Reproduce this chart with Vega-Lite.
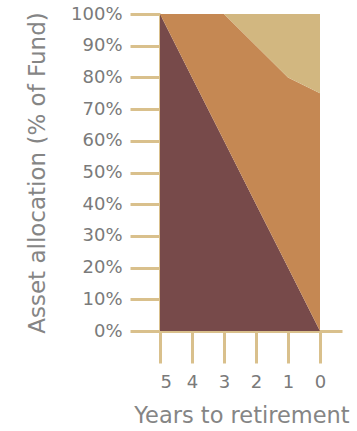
{
  "$schema": "https://vega.github.io/schema/vega-lite/v6.json",
  "width": 182,
  "height": 317,
  "autosize": {"type": "none"},
  "padding": {"left": 160, "top": 14, "right": 15, "bottom": 100},
  "background": "white",
  "config": {
    "view": {"stroke": null},
    "font": "DejaVu Sans",
    "axis": {"grid": false}
  },
  "data": {
    "values": [
      {"years": 5, "asset": "Growth", "rank": 1, "pct": 100},
      {"years": 4, "asset": "Growth", "rank": 1, "pct": 80},
      {"years": 3, "asset": "Growth", "rank": 1, "pct": 60},
      {"years": 2, "asset": "Growth", "rank": 1, "pct": 40},
      {"years": 1, "asset": "Growth", "rank": 1, "pct": 20},
      {"years": 0, "asset": "Growth", "rank": 1, "pct": 0},
      {"years": 5, "asset": "Balanced", "rank": 2, "pct": 0},
      {"years": 4, "asset": "Balanced", "rank": 2, "pct": 20},
      {"years": 3, "asset": "Balanced", "rank": 2, "pct": 40},
      {"years": 2, "asset": "Balanced", "rank": 2, "pct": 50},
      {"years": 1, "asset": "Balanced", "rank": 2, "pct": 60},
      {"years": 0, "asset": "Balanced", "rank": 2, "pct": 75},
      {"years": 5, "asset": "Defensive", "rank": 3, "pct": 0},
      {"years": 4, "asset": "Defensive", "rank": 3, "pct": 0},
      {"years": 3, "asset": "Defensive", "rank": 3, "pct": 0},
      {"years": 2, "asset": "Defensive", "rank": 3, "pct": 10},
      {"years": 1, "asset": "Defensive", "rank": 3, "pct": 20},
      {"years": 0, "asset": "Defensive", "rank": 3, "pct": 25}
    ]
  },
  "mark": {"type": "area", "opacity": 1},
  "encoding": {
    "x": {
      "field": "years",
      "type": "quantitative",
      "scale": {"domain": [5, -0.6875], "nice": false, "zero": false},
      "axis": {
        "values": [5, 4, 3, 2, 1, 0],
        "format": "d",
        "title": "Years to retirement",
        "titleX": 81.5,
        "titleAlign": "center",
        "titleFontSize": 22.5,
        "titleFontWeight": "normal",
        "titleColor": "#858585",
        "titlePadding": 13,
        "labelFontSize": 18,
        "labelFontWeight": "normal",
        "labelColor": "#7a7a7a",
        "labelPadding": 10,
        "tickSize": 32,
        "tickWidth": 3,
        "tickColor": "#d9c08c",
        "domainColor": "#d9c08c",
        "domainWidth": 3
      }
    },
    "y": {
      "field": "pct",
      "type": "quantitative",
      "stack": "zero",
      "scale": {"domain": [0, 100], "nice": false},
      "axis": {
        "values": [0, 10, 20, 30, 40, 50, 60, 70, 80, 90, 100],
        "labelExpr": "datum.value + '%'",
        "title": "Asset allocation (% of Fund)",
        "titleFontSize": 23,
        "titleFontWeight": "normal",
        "titleColor": "#858585",
        "titlePadding": 21,
        "labelFontSize": 18,
        "labelFontWeight": "normal",
        "labelColor": "#7a7a7a",
        "labelPadding": 8,
        "tickSize": 30,
        "tickWidth": 3,
        "tickColor": "#d9c08c",
        "domainColor": "#d9c08c",
        "domainWidth": 3
      }
    },
    "color": {
      "field": "asset",
      "type": "nominal",
      "scale": {
        "domain": ["Growth", "Balanced", "Defensive"],
        "range": ["#774a4a", "#c58853", "#d2b780"]
      },
      "legend": null
    },
    "order": {"field": "rank", "type": "quantitative"}
  }
}
